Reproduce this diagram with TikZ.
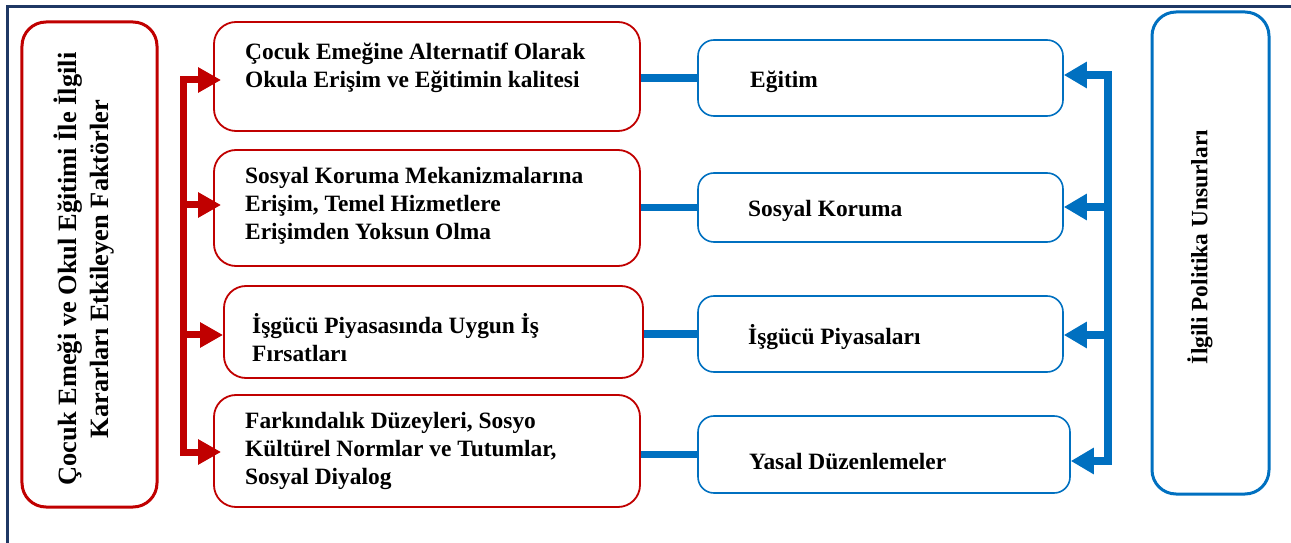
\documentclass[tikz,border=0pt]{standalone}
\usepackage{fontspec}
\setmainfont{Liberation Serif}
\usetikzlibrary{arrows.meta,calc}
\definecolor{cred}{RGB}{192,0,0}
\definecolor{cblue}{RGB}{0,112,192}
\definecolor{cnavy}{RGB}{31,56,100}
\begin{document}
\begin{tikzpicture}[x=1bp,y=-1bp,
  redbox/.style={draw=cred,line width=1.8bp,rounded corners=22bp,inner sep=0},
  bigred/.style={draw=cred,line width=3bp,rounded corners=24bp,inner sep=0},
  bluebox/.style={draw=cblue,line width=1.6bp,rounded corners=16bp,inner sep=0},
  bigblue/.style={draw=cblue,line width=3bp,rounded corners=24bp,inner sep=0},
  txt/.style={anchor=west,align=left,inner sep=0,font=\fontsize{23.5}{28}\selectfont\bfseries},
  rtxt/.style={align=center,inner sep=0,rotate=90,font=\fontsize{23.5}{30}\selectfont\bfseries},
  ltxt/.style={align=center,inner sep=0,rotate=90,font=\fontsize{26.5}{32}\selectfont\bfseries},
  redarrow/.style={draw=cred,line width=7bp,line join=miter,-{Triangle[length=23bp,width=24bp]}},
  redarrows/.style={draw=cred,line width=7bp,line join=miter,{Triangle[length=23bp,width=24bp]}-{Triangle[length=23bp,width=24bp]}},
  bluearrow/.style={draw=cblue,line width=7.5bp,line join=miter,-{Triangle[length=23bp,width=25bp]}},
  bluearrows/.style={draw=cblue,line width=7.5bp,line join=miter,{Triangle[length=23bp,width=25bp]}-{Triangle[length=23bp,width=25bp]}},
  bluecon/.style={draw=cblue,line width=7.5bp}
]
\useasboundingbox (0,0) rectangle (1291,543);
% frame
\coordinate (f0) at (7,543);
\coordinate (f1) at (7,7);
\coordinate (f2) at (1291,7);
\draw[cnavy,line width=3bp] (f0) -- (f1) -- (f2);

% left big box
\node[bigred,minimum width=135bp,minimum height=485bp] (L) at (89.5,264.5) {};
\node[ltxt] (Lt) at (84,269) {Çocuk Emeği ve Okul Eğitimi İle İlgili\\Kararları Etkileyen Faktörler};

% red boxes
\node[redbox,minimum width=426bp,minimum height=109bp] (r1) at (427,76.5) {};
\node[redbox,minimum width=426bp,minimum height=116bp] (r2) at (427,208) {};
\node[redbox,minimum width=419bp,minimum height=92bp] (r3) at (433.5,332) {};
\node[redbox,minimum width=426bp,minimum height=112bp] (r4) at (427,451) {};
\node[txt] (t1) at (245,68) {Çocuk Emeğine Alternatif Olarak\\Okula Erişim ve Eğitimin kalitesi};
\node[txt] (t2) at (245,206) {Sosyal Koruma Mekanizmalarına\\Erişim, Temel Hizmetlere\\Erişimden Yoksun Olma};
\node[txt] (t3) at (252,338) {İşgücü Piyasasında Uygun İş\\Fırsatları};
\node[txt] (t4) at (245,451) {Farkındalık Düzeyleri, Sosyo\\Kültürel Normlar ve Tutumlar,\\Sosyal Diyalog};

% blue boxes
\node[bluebox,minimum width=365bp,minimum height=76bp] (b1) at (880.5,78) {};
\node[bluebox,minimum width=365bp,minimum height=69bp] (b2) at (880.5,207.5) {};
\node[bluebox,minimum width=365bp,minimum height=76bp] (b3) at (880.5,334) {};
\node[bluebox,minimum width=372bp,minimum height=77bp] (b4) at (884,454.5) {};
\node[txt] (u1) at (750,82) {Eğitim};
\node[txt] (u2) at (748,211) {Sosyal Koruma};
\node[txt] (u3) at (748,337) {İşgücü Piyasaları};
\node[txt] (u4) at (749,462) {Yasal Düzenlemeler};

% right big box
\node[bigblue,minimum width=117bp,minimum height=482bp] (R) at (1210.5,253) {};
\node[rtxt] (Rt) at (1200,247) {İlgili Politika Unsurları};

% connectors red -> blue
\draw[bluecon] (r1.east |- b1.west) -- (b1.west);
\draw[bluecon] (r2.east |- b2.west) -- (b2.west);
\draw[bluecon] (r3.east |- b3.west) -- (b3.west);
\draw[bluecon] (r4.east |- b4.west) -- (b4.west);

% red spine
\coordinate (rs1) at (183,80);
\coordinate (rs2) at (183,205);
\coordinate (rs3) at (183,335);
\coordinate (rs4) at (183,452);
\draw[redarrows] ($(r1.west |- rs1)+(8,0)$) -- (rs1) -- (rs4) -- ($(r4.west |- rs4)+(8,0)$);
\draw[redarrow] (rs2) -- ($(r2.west |- rs2)+(8,0)$);
\draw[redarrow] (rs3) -- (r3.west |- rs3);

% blue spine
\coordinate (bs1) at (1108,75);
\coordinate (bs2) at (1108,207);
\coordinate (bs3) at (1108,335);
\coordinate (bs4) at (1108,461);
\draw[bluearrows] (b1.east |- bs1) -- (bs1) -- (bs4) -- (b4.east |- bs4);
\draw[bluearrow] (bs2) -- (b2.east |- bs2);
\draw[bluearrow] (bs3) -- (b3.east |- bs3);
\end{tikzpicture}
\end{document}
